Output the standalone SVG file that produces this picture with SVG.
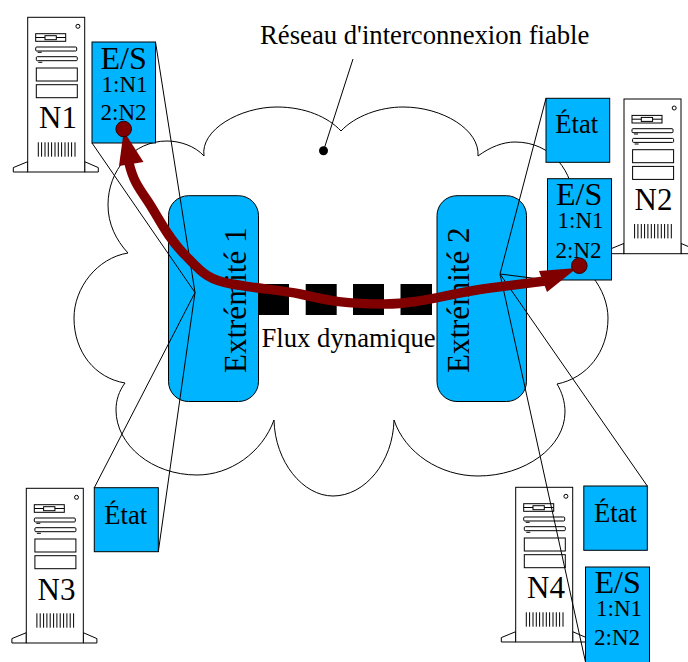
<svg xmlns="http://www.w3.org/2000/svg" xmlns:xlink="http://www.w3.org/1999/xlink" width="688" height="662" viewBox="0 0 688 662">
<style>
text{font-family:"Liberation Serif","Times New Roman",serif;fill:#000}
.t{font-size:26.700px}
.h{font-size:31px}
.e{font-size:32px}
.s{font-size:23px}
.box{fill:#00b4ff;stroke:#000;stroke-width:1}
.ln{fill:none;stroke:#000;stroke-width:1}
.srv{fill:#fff;stroke:#000;stroke-width:1}
.dot{fill:#800000;stroke:#300;stroke-width:1}
</style>
<defs>
<g id="server">
<path class="srv" d="M0 144.4L-14.4 150.3V154.7H0ZM57 144.4L70.6 150.3V154.7H57Z"/>
<rect class="srv" x="0" y="0" width="57" height="154.7"/>
<circle class="srv" cx="50.2" cy="9" r="2"/>
<rect class="srv" x="8" y="16.4" width="30" height="7.6"/>
<path class="ln" d="M8 20.2H38"/>
<rect class="srv" x="17.3" y="18.4" width="11.3" height="4"/>
<rect class="srv" x="8" y="29.7" width="41" height="4" rx="1"/>
<path class="ln" d="M10 35H14"/>
<rect class="srv" x="8.6" y="39.4" width="41" height="4" rx="1"/>
<path class="ln" d="M10.6 45H14.6"/>
<rect class="srv" x="8.6" y="50.7" width="41" height="13"/>
<rect class="srv" x="8.6" y="67.4" width="41" height="13"/>
<path class="ln" d="M10.6 125V139.4M13.9 125V139.4M17.3 125V139.4M20.6 125V139.4M23.9 125V139.4M27.3 125V139.4M30.6 125V139.4M33.9 125V139.4M37.3 125V139.4M40.6 125V139.4M43.9 125V139.4M47.3 125V139.4"/>
</g>
</defs>
<g id="cloud">
<path class="ln" d="M204 156C200 130 240 107 277 107C305 107 328 117 341 131C355 116 380 107 403 107C443 107 480 130 478 156C490 147 503 142 515 142C552 142 574 172 574 205C574 225 568 240 554 253C585 258 608 290 608 318C608 352 587 378 557 384C562 392 565 402 565 412C565 447 525 476 478 476C440 476 405 453 394 420C393 462 365 496 333 496C303 496 275 462 274 420C262 453 230 475 197 475C152 475 116 445 116 410C116 400 119 391 125 383C95 378 74 352 74 318C74 288 97 258 128 253C116 240 108 224 108 205C108 170 133 141 167 141C180 141 195 146 204 156Z"/>
</g>
<g id="flux">
<rect x="258" y="284" width="31" height="31" fill="#000"/>
<rect x="305.700" y="284" width="31" height="31" fill="#000"/>
<rect x="353" y="284" width="31" height="31" fill="#000"/>
<rect x="400.500" y="284" width="31.500" height="31" fill="#000"/>
<text class="t" x="261.500" y="346.700">Flux dynamique</text>
</g>
<g id="reseau">
<text class="t" x="260" y="44">Réseau d'interconnexion fiable</text>
<circle cx="323.500" cy="150.700" r="4.500" fill="#000"/>
</g>
<g id="extremite1">
<rect class="box" x="168.500" y="195.700" width="90" height="205.800" rx="20"/>
<text class="h" transform="translate(246 373) rotate(-90)">Extrémité 1</text>
</g>
<g id="extremite2">
<rect class="box" x="437" y="195.700" width="89.500" height="205.800" rx="20"/>
<text class="h" transform="translate(469 373) rotate(-90)">Extrémité 2</text>
</g>
<g id="n1">
<use href="#server" xlink:href="#server" x="27.700" y="17.300"/>
<text class="h" x="39" y="128">N1</text>
<rect class="box" x="92" y="42" width="63.500" height="101"/>
<text class="e" x="100.500" y="69">E/S</text>
<text class="s" x="101.500" y="91.500">1:N1</text>
<text class="s" x="100.500" y="120">2:N2</text>
</g>
<g id="n2">
<use href="#server" xlink:href="#server" x="624" y="99"/>
<text class="h" x="634.500" y="210">N2</text>
<rect class="box" x="546" y="98.300" width="63.700" height="64"/>
<text class="t" x="555.300" y="133.300">État</text>
<rect class="box" x="547.500" y="178.700" width="64" height="101.300"/>
<text class="e" x="556" y="205">E/S</text>
<text class="s" x="557.500" y="228">1:N1</text>
<text class="s" x="555.500" y="257.700">2:N2</text>
</g>
<g id="n3">
<use href="#server" xlink:href="#server" x="26.300" y="488.300"/>
<text class="h" x="37.500" y="600">N3</text>
<rect class="box" x="94.300" y="487.700" width="64" height="64"/>
<text class="t" x="104.300" y="523.500">État</text>
</g>
<g id="n4">
<use href="#server" xlink:href="#server" x="515.700" y="487.300"/>
<text class="h" x="527" y="598">N4</text>
<rect class="box" x="583.800" y="486" width="63.500" height="64.300"/>
<text class="t" x="594" y="521.700">État</text>
<rect class="box" x="585.500" y="567" width="64" height="96"/>
<text class="e" x="594.500" y="593.300">E/S</text>
<text class="s" x="596" y="616">1:N1</text>
<text class="s" x="594" y="645">2:N2</text>
</g>
<g id="connectors">
<path class="ln" d="M353 59L323.500 150.700"/>
<path class="ln" d="M155.500 42L195 292.500L92 143M94.300 487.700L195 292.500L158.300 551.700"/>
<path class="ln" d="M546 98.300L500 274L547.500 280M500 274L647.300 486M500 274L585.500 662"/>
<path fill="none" stroke="#800000" stroke-width="9.500" d="M129 163C133 180 138 187 147 200C158 216 166 236 185 255C200 270 206 280 232 284C260 289 280 290 300 294C330 301 345 304 385 304C420 304 450 293 490 288L545 281"/>
<path fill="#800000" d="M123.700 131L143.500 162L119 166Z"/>
<path fill="#800000" d="M577 268L539 271L547 292Z"/>
<circle class="dot" cx="123.700" cy="129" r="7.800"/>
<circle class="dot" cx="579.300" cy="265.700" r="7.800"/>
</g>
</svg>
